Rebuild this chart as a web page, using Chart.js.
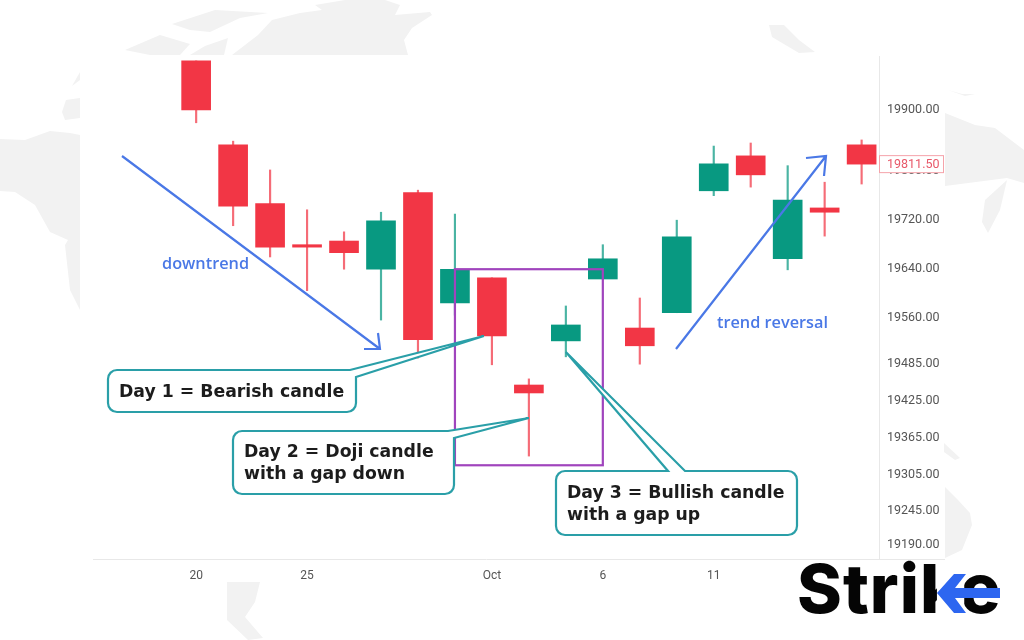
<!DOCTYPE html>
<html lang="en">

<head>
    <meta charset="UTF-8">
    <title>Morning star candlestick pattern</title>
    <script src="https://cdn.jsdelivr.net/npm/chart.js"></script>
    <style>
        html, body {
            margin: 0;
            padding: 0;
            background: #fff;
        }

        canvas {
            display: block;
        }
    </style>
</head>

<body>
    <canvas id="myChart" width="1024" height="640"></canvas>

    <script>
        // candle values
        const dayLabels = ['20', '21', '22', '25', '26', '27', '28', '29', 'Oct', '4', '5', '6', '7', '10', '11', '12', '13', '14', '17'];
        const opens = [19980, 19843, 19747, 19680, 19686, 19640, 19765, 19585, 19626, 19451, 19523, 19624, 19544, 19569, 19768, 19825, 19657, 19740, 19843];
        const closes = [19900, 19743, 19676, 19676, 19667, 19719, 19525, 19640, 19531, 19438, 19549, 19657, 19515, 19693, 19812, 19794, 19753, 19733, 19811.5];
        const highs = [19980, 19849, 19802, 19737, 19701, 19733, 19769, 19730, 19626, 19461, 19580, 19680, 19593, 19720, 19841, 19846, 19809, 19782, 19851];
        const lows = [19879, 19711, 19660, 19605, 19640, 19557, 19495, 19565, 19484, 19335, 19497, 19624, 19485, 19569, 19760, 19774, 19639, 19694, 19779];

        const dayTicks = [0, 3, 8, 11, 14];
        const priceTicks = [19900, 19800, 19720, 19640, 19560, 19485, 19425, 19365, 19305, 19245, 19190];
        const lastPrice = 19811.5;

        const RED = '#f23645';
        const GREEN = '#089981';
        const BLUE = '#4a78e6';
        const TEAL = '#2a9fa8';
        const MAP = '#f2f2f2';

        const candleColors = opens.map((o, i) => closes[i] >= o ? GREEN : RED);

        // pale world map behind the chart
        const mapShapes = [
            [[232, 55], [258, 35], [272, 20], [300, 13], [322, 10], [315, 5], [345, 0], [385, 0], [400, 5], [395, 15], [430, 12], [432, 15], [412, 28], [404, 40], [408, 55]],
            [[172, 24], [215, 10], [268, 13], [240, 18], [210, 32], [190, 30]],
            [[125, 50], [160, 35], [190, 44], [180, 55], [150, 55]],
            [[190, 55], [205, 46], [228, 38], [224, 55]],
            [[0, 139], [25, 140], [50, 131], [70, 133], [80, 135], [80, 310], [70, 290], [65, 245], [68, 240], [50, 232], [35, 205], [15, 192], [0, 191]],
            [[66, 100], [80, 98], [80, 118], [65, 120], [62, 112]],
            [[72, 86], [80, 72], [80, 80]],
            [[945, 113], [975, 125], [995, 128], [1024, 150], [1024, 183], [1007, 178], [945, 186]],
            [[1007, 180], [985, 200], [982, 222], [988, 233], [1000, 210]],
            [[945, 487], [958, 500], [970, 513], [972, 525], [962, 550], [945, 558]],
            [[944, 443], [960, 458], [955, 460], [944, 452]],
            [[227, 582], [260, 582], [255, 602], [245, 617], [263, 638], [248, 640], [227, 620]],
            [[769, 25], [784, 25], [799, 40], [815, 52], [799, 53], [772, 37]],
            [[948, 90], [962, 94], [975, 94], [965, 96]]
        ];

        function drawPoly(ctx, pts) {
            ctx.beginPath();
            pts.forEach((p, i) => i ? ctx.lineTo(p[0], p[1]) : ctx.moveTo(p[0], p[1]));
            ctx.closePath();
        }

        function drawArrow(ctx, x1, y1, x2, y2, barbs) {
            ctx.strokeStyle = BLUE;
            ctx.lineWidth = 2.2;
            ctx.beginPath();
            ctx.moveTo(x1, y1);
            ctx.lineTo(x2, y2);
            ctx.moveTo(barbs[0], barbs[1]);
            ctx.lineTo(x2, y2);
            ctx.lineTo(barbs[2], barbs[3]);
            ctx.stroke();
        }

        // rounded box with a pointer going out of the top edge
        function drawCallout(ctx, x, y, w, h, tailA, tip, tailB, rightSide) {
            const r = 9;
            ctx.beginPath();
            ctx.moveTo(x + r, y);
            ctx.lineTo(tailA, y);
            ctx.lineTo(tip[0], tip[1]);
            if (rightSide) {
                ctx.lineTo(x + w, tailB);
                ctx.arcTo(x + w, y + h, x + w - r, y + h, r);
            } else {
                ctx.lineTo(tailB, y);
                ctx.arcTo(x + w, y, x + w, y + r, r);
                ctx.arcTo(x + w, y + h, x + w - r, y + h, r);
            }
            ctx.arcTo(x, y + h, x, y + h - r, r);
            ctx.arcTo(x, y, x + r, y, r);
            ctx.closePath();
            ctx.fillStyle = '#fff';
            ctx.fill();
            ctx.strokeStyle = TEAL;
            ctx.lineWidth = 2.2;
            ctx.stroke();
        }

        const backgroundPlugin = {
            id: 'worldMap',
            beforeDraw(chart) {
                const ctx = chart.ctx;
                ctx.save();
                ctx.fillStyle = MAP;
                mapShapes.forEach(shape => {
                    drawPoly(ctx, shape);
                    ctx.fill();
                });
                ctx.restore();
            }
        };

        const annotationPlugin = {
            id: 'annotations',
            afterDraw(chart) {
                const ctx = chart.ctx;
                const xs = chart.scales.x;
                const ys = chart.scales.y;
                ctx.save();

                // axis line runs on under the price labels
                ctx.strokeStyle = '#e8e8e8';
                ctx.lineWidth = 1;
                ctx.beginPath();
                ctx.moveTo(chart.chartArea.right, chart.chartArea.bottom + 0.5);
                ctx.lineTo(945, chart.chartArea.bottom + 0.5);
                ctx.stroke();

                // current price tag
                const tagY = ys.getPixelForValue(lastPrice);
                ctx.fillStyle = '#fff';
                ctx.fillRect(879, tagY - 9, 65, 18);
                ctx.strokeStyle = '#f5a3aa';
                ctx.strokeRect(879.5, tagY - 8.5, 64, 17);
                ctx.fillStyle = '#e8596a';
                ctx.font = '12.5px Roboto';
                ctx.textBaseline = 'middle';
                ctx.textAlign = 'left';
                ctx.fillText(lastPrice.toFixed(2), 887, tagY + 0.5);

                // box around the three day pattern
                ctx.strokeStyle = '#a044bd';
                ctx.lineWidth = 2.2;
                ctx.strokeRect(xs.getPixelForValue(7), ys.getPixelForValue(19640), xs.getPixelForValue(11) - xs.getPixelForValue(7), ys.getPixelForValue(19320) - ys.getPixelForValue(19640));

                drawArrow(ctx, 122, 156, 380, 349, [364, 349, 378, 333]);
                drawArrow(ctx, 676, 349, 826, 156, [806, 158, 824, 176]);

                ctx.fillStyle = BLUE;
                ctx.font = '600 16.3px "Open Sans"';
                ctx.textBaseline = 'alphabetic';
                ctx.fillText('downtrend', 162, 269);
                ctx.fillText('trend reversal', 717, 328);

                drawCallout(ctx, 108, 370, 248, 42, 350, [xs.getPixelForValue(8) - 8, ys.getPixelForValue(19531)], 377, true);
                drawCallout(ctx, 233, 431, 221, 63, 448, [xs.getPixelForValue(9), 418], 438, true);
                drawCallout(ctx, 556, 471, 241, 64, 668, [xs.getPixelForValue(10), 352], 685, false);

                ctx.fillStyle = '#1c1c1c';
                ctx.font = '600 17.3px "DejaVu Sans"';
                ctx.fillText('Day 1 = Bearish candle', 119, 397);
                ctx.fillText('Day 2 = Doji candle', 244, 457);
                ctx.fillText('with a gap down', 244, 479);
                ctx.fillText('Day 3 = Bullish candle', 567, 498);
                ctx.fillText('with a gap up', 567, 520);

                // logo, the arms of the k are replaced by the blue arrow
                ctx.fillStyle = '#050505';
                ctx.font = '800 68px Inter';
                ctx.letterSpacing = '1px';
                ctx.fillText('Strike', 797, 613);
                const stemRight = 797 + ctx.measureText('Stri').width + 17;
                const eLeft = 797 + ctx.measureText('Strik').width + 3;
                ctx.letterSpacing = '0px';
                ctx.fillStyle = '#fff';
                ctx.fillRect(stemRight, 565, eLeft - stemRight, 52);
                ctx.fillStyle = '#2d66f0';
                drawPoly(ctx, [[937, 593], [954, 574], [966, 574], [955, 588], [1000, 588], [1000, 598], [955, 598], [966, 613], [954, 613]]);
                ctx.fill();

                ctx.restore();
            }
        };

        new Chart(document.getElementById('myChart'), {
            type: 'bar',
            data: {
                datasets: [{
                    label: 'Body',
                    data: opens.map((o, i) => ({ x: i, y: [o, closes[i]] })),
                    backgroundColor: candleColors,
                    barThickness: 29
                }, {
                    label: 'Wick',
                    data: lows.map((l, i) => ({ x: i, y: [l, highs[i]] })),
                    backgroundColor: candleColors.map(c => c + 'bb'),
                    barThickness: 1.5
                }]
            },
            options: {
                responsive: false,
                animation: false,
                grouped: false,
                layout: { padding: { left: 93, top: 56, right: 0, bottom: 0 } },
                plugins: {
                    legend: { display: false },
                    tooltip: { enabled: false }
                },
                scales: {
                    x: {
                        type: 'linear',
                        offset: false,
                        min: -2.79,
                        max: 18.47,
                        grid: { display: false, offset: false },
                        border: { color: '#e8e8e8' },
                        afterBuildTicks: scale => { scale.ticks = dayTicks.map(v => ({ value: v })); },
                        afterFit: scale => { scale.height = 81; },
                        ticks: {
                            autoSkip: false,
                            maxRotation: 0,
                            padding: 2,
                            color: '#555',
                            font: { family: 'Roboto', size: 12 },
                            callback: v => dayLabels[v]
                        }
                    },
                    y: {
                        position: 'right',
                        min: 19167,
                        max: 19988,
                        grid: { display: false },
                        border: { color: '#e8e8e8' },
                        afterBuildTicks: scale => { scale.ticks = priceTicks.map(v => ({ value: v })); },
                        afterFit: scale => { scale.width = 145; },
                        ticks: {
                            autoSkip: false,
                            padding: 0,
                            color: '#555',
                            font: { family: 'Roboto', size: 12.5 },
                            callback: v => v.toFixed(2)
                        }
                    }
                }
            },
            plugins: [backgroundPlugin, annotationPlugin]
        });
    </script>
</body>

</html>
